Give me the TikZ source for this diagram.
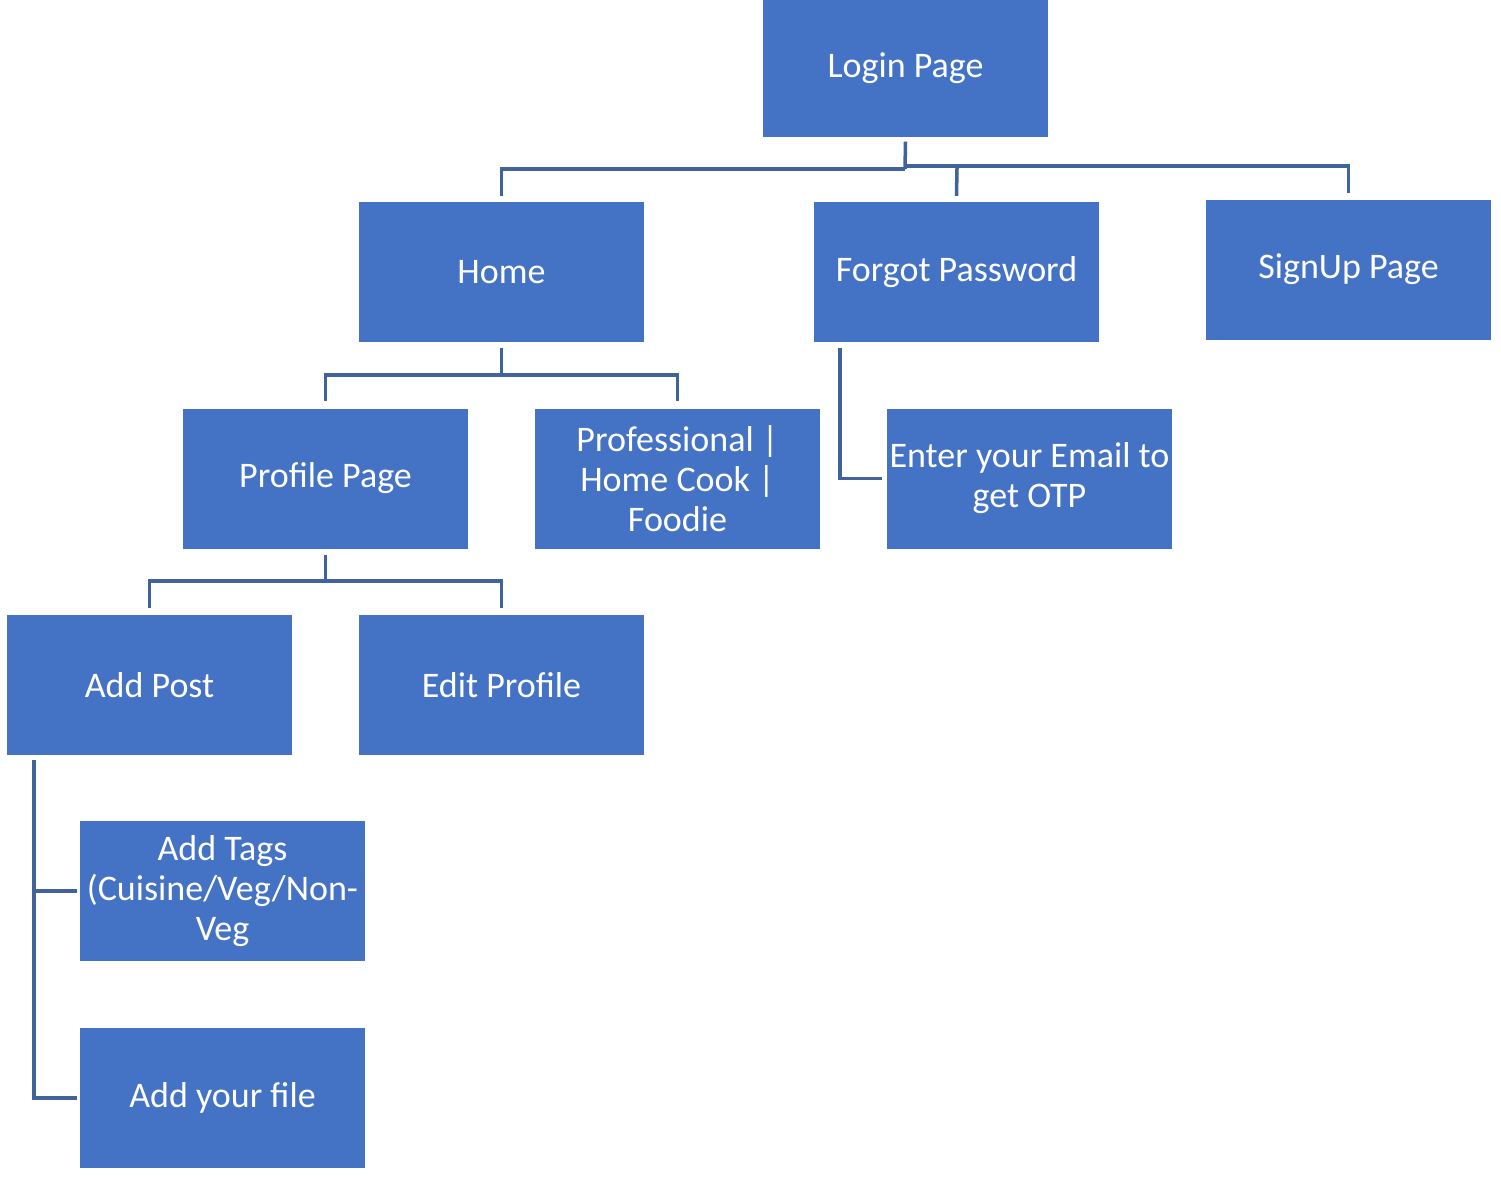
\documentclass[tikz,border=0pt]{standalone}
\usepackage{fontspec}
\setmainfont{Carlito}
\definecolor{boxblue}{HTML}{4472C4}
\definecolor{lineblue}{RGB}{65,99,156}
\begin{document}
\begin{tikzpicture}[x=1pt,y=-1pt,
  box/.style={fill=boxblue,draw=none,minimum width=285pt,minimum height=140pt,inner sep=0pt,
    text=white,align=center,font=\fontsize{36}{40}\selectfont},
  conn/.style={draw=lineblue,line width=3.5pt}]
\useasboundingbox[fill=white] (0,0) rectangle (1501,1195);
\node[box,minimum height=137pt] (login) at (905.5,68) {Login Page};
\node[box] (home) at (501.5,272) {Home};
\node[box] (forgot) at (956.5,272) {Forgot Password};
\node[box] (signup) at (1348.5,269.5) {SignUp Page};
\node[box] (profile) at (325.5,478.5) {Profile Page};
\node[box] (prof) at (677.5,478.5) {Professional |\\Home Cook |\\Foodie};
\node[box] (email) at (1029.5,478.5) {Enter your Email to\\get OTP};
\node[box] (addpost) at (149.5,685) {Add Post};
\node[box] (edit) at (501.5,685) {Edit Profile};
\node[box] (tags) at (222.5,891) {Add Tags\\(Cuisine/Veg/Non-\\Veg};
\node[box] (file) at (222.5,1098) {Add your file};
% Login children
\coordinate (b1) at (905,169);
\coordinate (b1r) at (905,166);
\draw[conn] ([yshift=-5pt]login.south) -- (b1);
\draw[conn] (b1) -| ([yshift=6pt]home.north);
\draw[conn] (957,168) -- ([yshift=6pt]forgot.north);
\draw[conn] (b1r) -| ([yshift=6pt]signup.north);
% Home children
\coordinate (b2) at (501.5,375);
\draw[conn] ([yshift=-6pt]home.south) -- (b2);
\draw[conn] (b2) -| ([yshift=7pt]profile.north);
\draw[conn] (b2) -| ([yshift=7pt]prof.north);
% Forgot child
\draw[conn] ([xshift=26pt,yshift=-6pt]forgot.south west) |- ([xshift=-5pt]email.west);
% Profile children
\coordinate (b3) at (325.5,581);
\draw[conn] ([yshift=-6pt]profile.south) -- (b3);
\draw[conn] (b3) -| ([yshift=7pt]addpost.north);
\draw[conn] (b3) -| ([yshift=7pt]edit.north);
% Add Post children
\draw[conn] ([xshift=27pt,yshift=-5pt]addpost.south west) |- ([xshift=-3pt]tags.west);
\draw[conn] ([xshift=27pt,yshift=-5pt]addpost.south west) |- ([xshift=-3pt]file.west);
\end{tikzpicture}
\end{document}
